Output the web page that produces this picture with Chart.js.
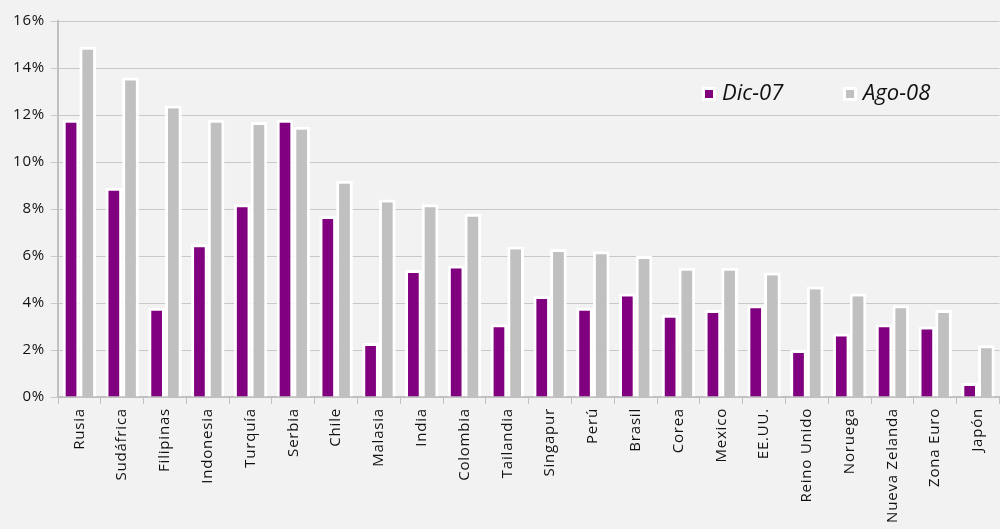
<!DOCTYPE html>
<html>
<head>
<meta charset="utf-8">
<script src="https://cdn.jsdelivr.net/npm/chart.js@4/dist/chart.umd.min.js"></script>
<style>
  html, body { margin: 0; padding: 0; background: #f2f2f2; }
  #wrap { width: 1000px; height: 529px; position: relative; }
</style>
</head>
<body>
<div id="wrap"><canvas id="barChart"></canvas></div>
<script>
"use strict";
var paises = ['Rusia','Sudáfrica','Filipinas','Indonesia','Turquía','Serbia','Chile','Malasia','India','Colombia','Tailandia','Singapur','Perú','Brasil','Corea','Mexico','EE.UU.','Reino Unido','Noruega','Nueva Zelanda','Zona Euro','Japón'];
var dic07 = [11.8, 8.9, 3.8, 6.5, 8.2, 11.8, 7.7, 2.3, 5.4, 5.6, 3.1, 4.3, 3.8, 4.4, 3.5, 3.7, 3.9, 2.0, 2.7, 3.1, 3.0, 0.6];
var ago08 = [14.9, 13.6, 12.4, 11.8, 11.7, 11.5, 9.2, 8.4, 8.2, 7.8, 6.4, 6.3, 6.2, 6.0, 5.5, 5.5, 5.3, 4.7, 4.4, 3.9, 3.7, 2.2];
var serieNombres = ['Dic-07', 'Ago-08'];
var serieColores = ['#800080', '#c0c0c0'];

// leyenda dibujada dentro del area del grafico
var leyenda = {
  id: 'leyenda',
  beforeDraw: function(chart) {
    chart.ctx.letterSpacing = '0.8px';
  },
  afterDraw: function(chart) {
    var ctx = chart.ctx;
    var xs = [704, 845];
    ctx.save();
    ctx.letterSpacing = '0px';
    chart.data.datasets.forEach(function(ds, i) {
      ctx.fillStyle = '#ffffff';
      ctx.fillRect(xs[i] - 2, 87, 14, 14);
      ctx.fillStyle = ds.backgroundColor;
      ctx.fillRect(xs[i] + 1, 90, 8, 8);
      ctx.fillStyle = '#111111';
      ctx.font = 'italic 22px "Open Sans"';
      ctx.textBaseline = 'middle';
      ctx.fillText(ds.label, xs[i] + 18, 94);
    });
    ctx.restore();
  }
};

var ctx = document.getElementById('barChart').getContext('2d');
new Chart(ctx, {
  type: 'bar',
  data: {
    labels: paises,
    datasets: [
      { label: serieNombres[0], data: dic07, backgroundColor: serieColores[0], borderColor: '#ffffff', borderWidth: 3 },
      { label: serieNombres[1], data: ago08, backgroundColor: serieColores[1], borderColor: '#ffffff', borderWidth: 3 }
    ]
  },
  options: {
    responsive: true,
    maintainAspectRatio: false,
    animation: false,
    layout: { padding: { top: 21, right: 0, left: 0, bottom: 0 } },
    datasets: { bar: { categoryPercentage: 0.78, barPercentage: 1.0 } },
    plugins: { legend: { display: false }, tooltip: { enabled: false } },
    scales: {
      x: {
        grid: { offset: true, drawOnChartArea: false, tickLength: 7, color: '#c0c0c0' },
        border: { color: '#c0c0c0', width: 2 },
        ticks: { minRotation: 90, maxRotation: 90, autoSkip: false, color: '#111111', padding: 4,
                 font: { family: '"Open Sans"', size: 15 } },
        afterFit: function(s) { s.height = 132; }
      },
      y: {
        min: 0, max: 16,
        grid: { color: '#c8c8c8', tickLength: 7 },
        border: { color: '#c0c0c0', width: 2 },
        ticks: { stepSize: 2, color: '#111111', padding: 6,
                 font: { family: '"Open Sans"', size: 15 },
                 callback: function(v) { return v + '%'; } },
        afterFit: function(s) { s.width = 58; }
      }
    }
  },
  plugins: [leyenda]
});
</script>
</body>
</html>
